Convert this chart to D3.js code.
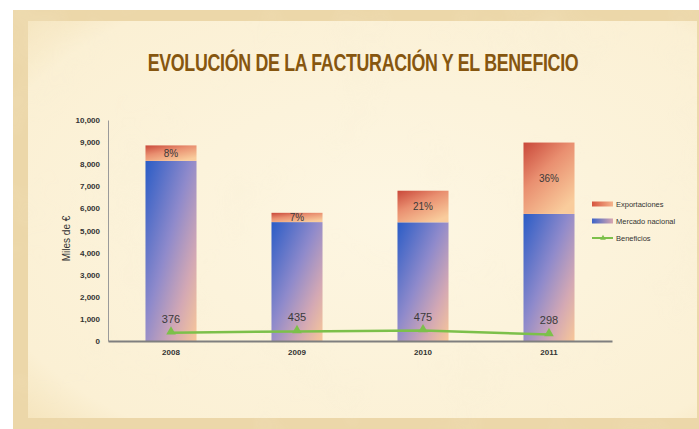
<!DOCTYPE html>
<html>
<head>
<meta charset="utf-8">
<script src="https://cdn.jsdelivr.net/npm/d3@7"></script>
<style>
  html, body { margin: 0; padding: 0; background: #fff; }
  svg { display: block; }
</style>
</head>
<body>
<div id="chart"></div>
<script>
// Data (miles de €)
const years = ['2008', '2009', '2010', '2011'];
const mercadoNacional = [8150, 5380, 5370, 5750];
const exportaciones = [700, 420, 1430, 3230];
const beneficios = [376, 435, 475, 298];
const yTicks = [0, 1000, 2000, 3000, 4000, 5000, 6000, 7000, 8000, 9000, 10000];

const width = 699, height = 429;

const svg = d3.select('#chart')
    .append('svg')
    .attr('width', width)
    .attr('height', height);

const defs = svg.append('defs');

// parchment texture
const tex = defs.append('filter').attr('id', 'paper')
    .attr('x', 0).attr('y', 0).attr('width', '100%').attr('height', '100%');
tex.append('feTurbulence').attr('type', 'fractalNoise')
    .attr('baseFrequency', 0.012).attr('numOctaves', 3).attr('seed', 4).attr('result', 'noise');
tex.append('feColorMatrix').attr('in', 'noise').attr('type', 'matrix')
    .attr('values', '0 0 0 0 0.93  0 0 0 0 0.85  0 0 0 0 0.66  0 0 0 -1.6 0.75');

const frameGrad = defs.append('radialGradient').attr('id', 'innerGlow')
    .attr('cx', '55%').attr('cy', '50%').attr('r', '75%');
frameGrad.append('stop').attr('offset', '0%').attr('stop-color', '#fdf6e2');
frameGrad.append('stop').attr('offset', '85%').attr('stop-color', '#fbf0d4');
frameGrad.append('stop').attr('offset', '100%').attr('stop-color', '#f5e4bc');

function diag(id, stops, x2, y2) {
    const g = defs.append('linearGradient').attr('id', id)
        .attr('x1', 0).attr('y1', 0).attr('x2', x2).attr('y2', y2);
    stops.forEach(s => g.append('stop').attr('offset', s[0]).attr('stop-color', s[1]));
}
diag('gradMercado', [['0%', '#2a5cc6'], ['45%', '#8f8acb'], ['75%', '#d3a8b4'], ['100%', '#f8c798']], 1, 1);
diag('gradExport', [['0%', '#c9483a'], ['45%', '#e98f70'], ['100%', '#f9cc9c']], 0.7, 1);
diag('legMercado', [['0%', '#3d63c8'], ['100%', '#d9a7b0']], 1, 0);
diag('legExport', [['0%', '#d65540'], ['100%', '#f5b48c']], 1, 0);

// background: white corner, tan frame, cream inner sheet
svg.append('rect').attr('width', width).attr('height', height).attr('fill', '#ffffff');
svg.append('rect').attr('x', 13).attr('y', 10).attr('width', width - 13).attr('height', height - 10)
    .attr('fill', '#ecd7a9');
svg.append('rect').attr('x', 28).attr('y', 21).attr('width', width - 30).attr('height', 397)
    .attr('fill', 'url(#innerGlow)');
svg.append('rect').attr('x', 13).attr('y', 10).attr('width', width - 13).attr('height', height - 10)
    .attr('filter', 'url(#paper)').attr('opacity', 0.35);

// title (condensed horizontally, no narrow face installed)
svg.append('g')
    .attr('transform', 'translate(363,71) scale(0.775,1)')
    .append('text')
    .attr('x', 0).attr('y', 0)
    .attr('text-anchor', 'middle')
    .attr('font-family', '"Liberation Sans Narrow", "Liberation Sans", Arial, sans-serif')
    .attr('font-weight', 'bold')
    .attr('font-size', 23)
    .attr('letter-spacing', -0.4)
    .attr('fill', '#86560f')
    .text('EVOLUCIÓN DE LA FACTURACIÓN Y EL BENEFICIO');

// scales
const x = d3.scaleBand().domain(years).range([108, 612])
    .paddingInner(0.595).paddingOuter(0.2975);
const y = d3.scaleLinear().domain([0, 10000]).range([341, 120]);

const font = '"Liberation Sans", Arial, sans-serif';

// y axis
const yAxis = svg.append('g')
    .attr('transform', 'translate(108,0)')
    .call(d3.axisLeft(y).tickValues(yTicks).tickFormat(d3.format(',')).tickSize(0).tickPadding(8));
yAxis.select('.domain').attr('stroke', '#9a9a9a').attr('stroke-width', 1);
yAxis.selectAll('text')
    .attr('font-family', font).attr('font-size', 8).attr('font-weight', 'bold').attr('fill', '#333');

svg.append('text')
    .attr('transform', 'translate(70,' + ((y(0) + y(10000)) / 2 + 8) + ') rotate(-90)')
    .attr('text-anchor', 'middle')
    .attr('font-family', font).attr('font-size', 10).attr('fill', '#333')
    .text('Miles de €');

// stacked bars
const bars = svg.append('g');
years.forEach((yr, i) => {
    const m = mercadoNacional[i], e = exportaciones[i];
    bars.append('rect')
        .attr('x', x(yr)).attr('width', x.bandwidth())
        .attr('y', y(m)).attr('height', y(0) - y(m))
        .attr('fill', 'url(#gradMercado)');
    bars.append('rect')
        .attr('x', x(yr)).attr('width', x.bandwidth())
        .attr('y', y(m + e)).attr('height', y(m) - y(m + e))
        .attr('fill', 'url(#gradExport)');
    bars.append('text')
        .attr('x', x(yr) + x.bandwidth() / 2)
        .attr('y', (y(m) + y(m + e)) / 2)
        .attr('dy', '0.35em')
        .attr('text-anchor', 'middle')
        .attr('font-family', font).attr('font-size', 10).attr('fill', '#3a3a3a')
        .text(Math.round(e / (m + e) * 100) + '%');
});

// x axis
const xAxis = svg.append('g')
    .attr('transform', 'translate(0,' + y(0) + ')')
    .call(d3.axisBottom(x).tickSize(0).tickPadding(8));
xAxis.select('.domain').attr('stroke', '#7f7f7f').attr('stroke-width', 2);
xAxis.selectAll('text')
    .attr('font-family', font).attr('font-size', 8).attr('font-weight', 'bold').attr('fill', '#333');

// beneficios line
const cx = d => x(d) + x.bandwidth() / 2;
const line = d3.line().x((d, i) => cx(years[i])).y(d => y(d));
svg.append('path')
    .datum(beneficios)
    .attr('d', line)
    .attr('fill', 'none')
    .attr('stroke', '#7cc04a')
    .attr('stroke-width', 2.5);

const tri = d3.symbol().type(d3.symbolTriangle).size(40);
svg.append('g').selectAll('path')
    .data(beneficios)
    .enter().append('path')
    .attr('d', tri)
    .attr('transform', (d, i) => 'translate(' + cx(years[i]) + ',' + (y(d) - 1) + ')')
    .attr('fill', '#7cc04a');

svg.append('g').selectAll('text')
    .data(beneficios)
    .enter().append('text')
    .attr('x', (d, i) => cx(years[i]))
    .attr('y', d => y(d) - 10)
    .attr('text-anchor', 'middle')
    .attr('font-family', font).attr('font-size', 11).attr('fill', '#3a3a3a')
    .text(d => d);

// legend
const legend = svg.append('g').attr('transform', 'translate(592,204)');
const legItems = [
    {name: 'Exportaciones', fill: 'url(#legExport)'},
    {name: 'Mercado nacional', fill: 'url(#legMercado)'},
    {name: 'Beneficios', line: true}
];
legItems.forEach((it, i) => {
    const g = legend.append('g').attr('transform', 'translate(0,' + (i * 17) + ')');
    if (it.line) {
        g.append('line').attr('x1', 0).attr('x2', 21).attr('y1', 0).attr('y2', 0)
            .attr('stroke', '#7cc04a').attr('stroke-width', 2);
        g.append('path').attr('d', d3.symbol().type(d3.symbolTriangle).size(14))
            .attr('transform', 'translate(11,0)').attr('fill', '#7cc04a');
    } else {
        g.append('rect').attr('x', 0).attr('y', -2.5).attr('width', 21).attr('height', 5)
            .attr('fill', it.fill);
    }
    g.append('text')
        .attr('x', 24).attr('y', 0).attr('dy', '0.35em')
        .attr('font-family', font).attr('font-size', 7.5).attr('fill', '#333')
        .text(it.name);
});
</script>
</body>
</html>
